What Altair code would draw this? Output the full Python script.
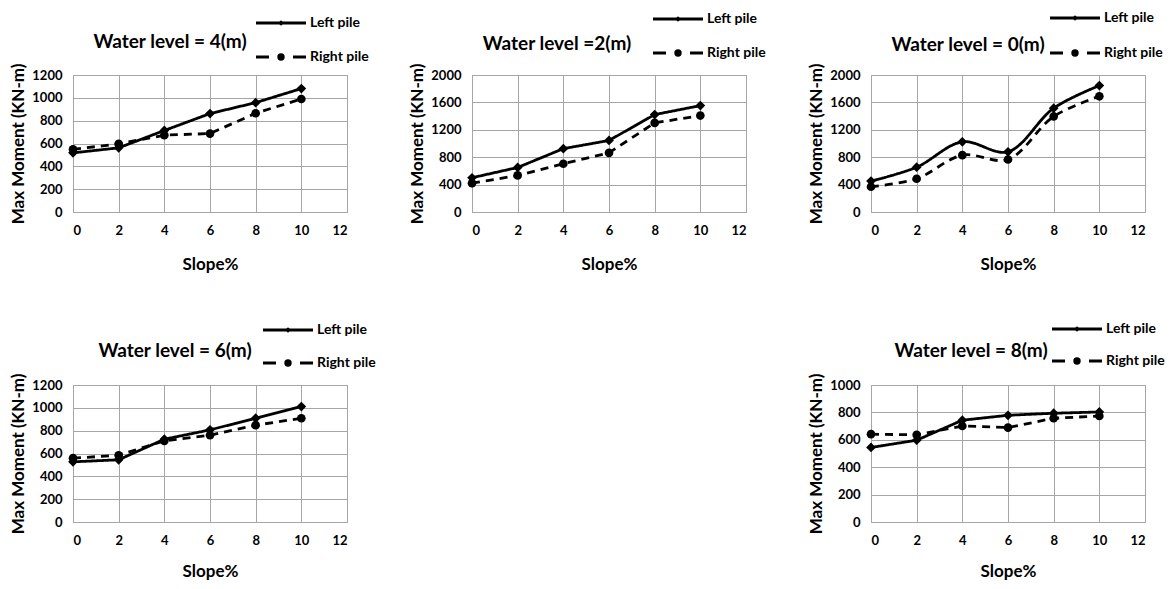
import altair as alt
import pandas as pd

slopes = [0, 2, 4, 6, 8, 10]
piles = ["Left pile", "Right pile"]

wl4_left = [518, 562, 714, 862, 958, 1081]
wl4_right = [548, 597, 673, 687, 865, 990]
wl2_left = [500, 650, 925, 1044, 1422, 1553]
wl2_right = [420, 534, 704, 864, 1301, 1408]
wl0_left = [451, 655, 1024, 879, 1515, 1845]
wl0_right = [369, 485, 830, 767, 1395, 1689]
wl6_left = [527, 545, 725, 807, 909, 1011]
wl6_right = [559, 585, 711, 760, 848, 909]
wl8_left = [544, 597, 743, 779, 794, 803]
wl8_right = [641, 636, 701, 689, 757, 774]

titles = ["Water level = 4(m)", "Water level =2(m)", "Water level = 0(m)",
          "Water level = 6(m)", "Water level = 8(m)"]

FONT = "Lato"
W, H = 274, 137
GRID = "#a6a6a6"


def panel(title, left, right, ymax, ystep, interp, tx, ty, lx, ly0, ly1, xtp):
    df = pd.DataFrame({
        "slope": slopes * 2,
        "moment": left + right,
        "pile": [piles[0]] * len(slopes) + [piles[1]] * len(slopes),
    })
    x = alt.X("slope:Q", scale=alt.Scale(domain=[0, 12], nice=False),
              axis=alt.Axis(values=list(range(0, 13, 2)), title="Slope%", format="d",
                            titlePadding=xtp))
    y = alt.Y("moment:Q", scale=alt.Scale(domain=[0, ymax], nice=False),
              axis=alt.Axis(values=list(range(0, ymax + 1, ystep)), format="d",
                            title="Max Moment (KN-m)"))
    base = alt.Chart(df)
    lines = base.mark_line(color="black", strokeWidth=2.8, interpolate=interp).encode(
        x=x, y=y,
        strokeDash=alt.StrokeDash("pile:N", scale=alt.Scale(domain=piles, range=[[1, 0], [8, 6]]),
                                  legend=None),
    )
    pts = base.mark_point(filled=True, color="black", opacity=1).encode(
        x=x, y=y,
        shape=alt.Shape("pile:N", scale=alt.Scale(domain=piles, range=["diamond", "circle"]),
                        legend=None),
        size=alt.Size("pile:N", scale=alt.Scale(domain=piles, range=[95, 75]), legend=None),
    )
    tdf = pd.DataFrame({"t": [title]})
    ttl = alt.Chart(tdf).mark_text(font=FONT, fontSize=19, fontWeight="bold",
                                   color="black", align="center", baseline="middle").encode(
        x=alt.value(tx), y=alt.value(ty), text="t:N")
    ldf = pd.DataFrame({"pile": piles})
    layers = [lines, pts, ttl]
    for i, (p, ly) in enumerate(zip(piles, [ly0, ly1])):
        d = alt.Chart(ldf[ldf.pile == p])
        if i == 0:
            r = d.mark_rule(color="black", strokeWidth=2.8).encode(
                x=alt.value(lx), x2=alt.value(lx + 50), y=alt.value(ly))
            m = d.mark_point(filled=True, color="black", opacity=1, shape="diamond", size=30).encode(
                x=alt.value(lx + 25), y=alt.value(ly))
        else:
            r = d.mark_rule(color="black", strokeWidth=2.8, strokeDash=[13, 24]).encode(
                x=alt.value(lx), x2=alt.value(lx + 50), y=alt.value(ly))
            m = d.mark_point(filled=True, color="black", opacity=1, shape="circle", size=55).encode(
                x=alt.value(lx + 25), y=alt.value(ly))
        t = d.mark_text(font=FONT, fontSize=14, fontWeight="bold", color="black",
                        align="left", baseline="middle").encode(
            x=alt.value(lx + 54), y=alt.value(ly), text="pile:N")
        layers += [r, m, t]
    return alt.layer(*layers).properties(width=W, height=H)


p1 = panel(titles[0], wl4_left, wl4_right, 1200, 200, "linear", 97, -33, 183, -52, -18, 19)
p2 = panel(titles[1], wl2_left, wl2_right, 2000, 400, "linear", 85, -31, 181, -56, -22, 19)
p3 = panel(titles[2], wl0_left, wl0_right, 2000, 400, "catmull-rom", 97, -30, 179, -57, -22, 19)
p4 = panel(titles[3], wl6_left, wl6_right, 1200, 200, "linear", 102, -34, 190, -55, -22, 16)
p5 = panel(titles[4], wl8_left, wl8_right, 1000, 200, "linear", 100, -34, 181, -56, -24, 16)

spacer = alt.Chart(pd.DataFrame({"a": [0]})).mark_rule(opacity=0).encode(
    x=alt.value(0), y=alt.value(0)).properties(
    width=W, height=H, view=alt.ViewConfig(stroke="transparent"))

chart = alt.concat(p1, p2, p3, p4, spacer, p5, columns=3, bounds="flush").configure_view(
    stroke=GRID, strokeWidth=1
).configure_axis(
    grid=True, gridColor=GRID, gridWidth=1, domain=False, ticks=False,
    labelFont=FONT, labelFontSize=13, labelFontWeight="bold", labelColor="black",
    titleFont=FONT, titleFontSize=17, titleFontWeight="bold", titleColor="black",
).configure_axisY(
    labelPadding=11, titlePadding=4
).configure_axisX(
    labelPadding=12
).properties(background="white",
             padding={"left": 1, "top": 2, "right": 0, "bottom": 0})
chart.spacing = alt.RowColnumber(row=173, column=125)

chart.save("out.html", embed_options={"renderer": "svg", "actions": False})
